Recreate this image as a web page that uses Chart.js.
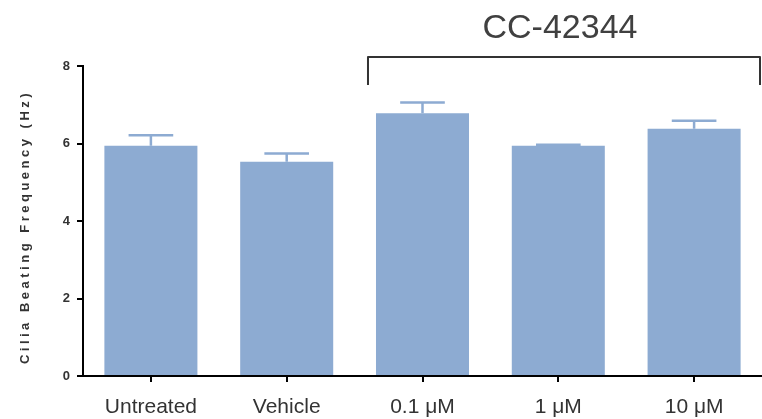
<!DOCTYPE html>
<html>
<head>
<meta charset="utf-8">
<script src="https://cdn.jsdelivr.net/npm/chart.js@4.4.1/dist/chart.umd.min.js"></script>
<style>
html,body{margin:0;padding:0;background:#fff;}
#wrap{width:762px;height:419px;position:relative;}
</style>
</head>
<body>
<div id="wrap"><canvas id="c" width="762" height="419"></canvas></div>
<script>
const categories = ["Untreated", "Vehicle", "0.1 \u03bcM", "1 \u03bcM", "10 \u03bcM"];
const meanValues = [5.94, 5.53, 6.78, 5.94, 6.38];
const errorValues = [0.27, 0.21, 0.28, 0.03, 0.21];
const yTicks = [0, 2, 4, 6, 8];
const yTitle = "Cilia Beating Frequency (Hz)";
const groupLabel = "CC-42344";
const groupStartIndex = 2;

const barColor = "#8DABD2";

const extras = {
  id: "extras",
  afterDatasetsDraw(chart) {
    const ctx = chart.ctx;
    const xs = chart.scales.x, ys = chart.scales.y;
    const meta = chart.getDatasetMeta(0);
    ctx.save();
    // error bars
    ctx.strokeStyle = barColor;
    ctx.lineWidth = 2.5;
    meta.data.forEach((bar, i) => {
      const x = bar.x;
      const y0 = ys.getPixelForValue(meanValues[i]);
      const y1 = ys.getPixelForValue(meanValues[i] + errorValues[i]);
      const half = bar.width * 0.24;
      ctx.beginPath();
      ctx.moveTo(x, y0);
      ctx.lineTo(x, y1);
      ctx.moveTo(x - half, y1);
      ctx.lineTo(x + half, y1);
      ctx.stroke();
    });
    // bracket
    const b = meta.data[groupStartIndex];
    const left = b.x - b.width / 2 - 8;
    const right = chart.chartArea.right - 2;
    const top = chart.chartArea.top - 9;
    const bottom = top + 28;
    ctx.strokeStyle = "#333";
    ctx.lineWidth = 2;
    ctx.lineJoin = "round";
    ctx.beginPath();
    ctx.moveTo(left, bottom);
    ctx.lineTo(left, top);
    ctx.lineTo(right, top);
    ctx.lineTo(right, bottom);
    ctx.stroke();
    ctx.fillStyle = "#404040";
    ctx.font = "34px 'Liberation Sans', Arial, sans-serif";
    ctx.textAlign = "center";
    ctx.textBaseline = "alphabetic";
    ctx.fillText(groupLabel, (left + right) / 2 - 4, 38);
    // y title
    const cy = (chart.chartArea.top + chart.chartArea.bottom) / 2 + 6;
    ctx.translate(25, cy);
    ctx.rotate(-Math.PI / 2);
    ctx.fillStyle = "#333";
    ctx.font = "bold 13px 'Liberation Sans', Arial, sans-serif";
    ctx.letterSpacing = "3.5px";
    ctx.textBaseline = "middle";
    ctx.fillText(yTitle, 0, 0);
    ctx.restore();
  }
};

new Chart(document.getElementById("c"), {
  type: "bar",
  data: {
    labels: categories,
    datasets: [{
      data: meanValues,
      backgroundColor: barColor,
      borderWidth: 0,
      categoryPercentage: 1,
      barPercentage: 0.685
    }]
  },
  options: {
    responsive: false,
    animation: false,
    events: [],
    layout: { padding: { top: 66, right: 0, left: 0, bottom: 0 } },
    plugins: { legend: { display: false }, tooltip: { enabled: false } },
    scales: {
      x: {
        offset: true,
        grid: { display: true, drawOnChartArea: false, drawTicks: true, tickLength: 6, color: "#000", lineWidth: 2, offset: false },
        border: { display: true, color: "#000", width: 2 },
        ticks: { color: "#333", font: { family: "'Liberation Sans', Arial, sans-serif", size: 21 }, padding: 13, maxRotation: 0 },
        afterFit(s) { s.height = 43; }
      },
      y: {
        min: 0, max: 8,
        afterBuildTicks(s) { s.ticks = yTicks.map(v => ({ value: v })); },
        grid: { display: true, drawOnChartArea: false, drawTicks: true, tickLength: 6, color: "#000", lineWidth: 2 },
        border: { display: true, color: "#000", width: 2 },
        ticks: { color: "#333", font: { family: "'Liberation Sans', Arial, sans-serif", size: 13, weight: "bold" }, padding: 7 },
        afterFit(s) { s.width = 83; }
      }
    }
  },
  plugins: [extras]
});
</script>
</body>
</html>
